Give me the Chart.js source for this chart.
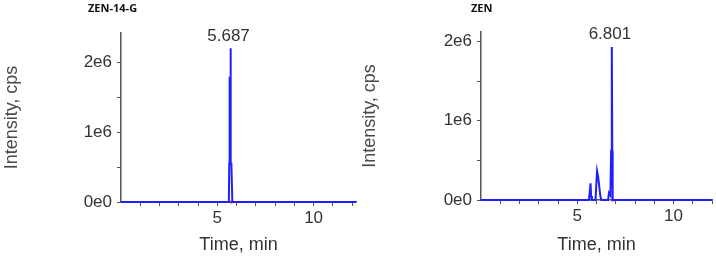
<!DOCTYPE html>
<html>
<head>
<meta charset="utf-8">
<script src="https://cdn.jsdelivr.net/npm/chart.js@4/dist/chart.umd.min.js"></script>
<style>
  body { margin: 0; background: #fff; width: 716px; height: 259px; overflow: hidden; position: relative; }
  .panel { position: absolute; top: 0; height: 259px; }
  .panel-title { position: absolute; top: 0px; font-family: "Open Sans", sans-serif; font-weight: bold; font-size: 11px; color: #111; }
</style>
</head>
<body>
<div class="panel" style="left:0;width:360px"><canvas id="leftChart"></canvas></div>
<div class="panel" style="left:358px;width:358px"><canvas id="rightChart"></canvas></div>
<div class="panel-title" style="left:88px">ZEN-14-G</div>
<div class="panel-title" style="left:471px">ZEN</div>
<script>
// ZEN-14-G trace (time in min, intensity in cps)
const leftTimes = [0, 5.55, 5.6, 5.62, 5.64, 5.665, 5.687, 5.7, 5.73, 5.76, 5.78, 12.2];
const leftIntensity = [0, 0, 0, 550000, 1780000, 1780000, 2200000, 550000, 550000, 550000, 0, 0];
const leftPeakTime = 5.687;

// ZEN trace
const rightTimes = [0, 5.6, 5.65, 5.69, 5.72, 5.76, 5.95, 5.98, 6.03, 6.08, 6.13, 6.2, 6.25, 6.6, 6.65, 6.72, 6.76, 6.79, 6.801, 6.82, 6.84, 12.0];
const rightIntensity = [0, 0, 100000, 210000, 50000, 0, 0, 150000, 365000, 300000, 200000, 50000, 0, 0, 90000, 60000, 620000, 620000, 1930000, 620000, 0, 0];
const rightPeakTime = 6.801;

// integration markers at the peak bases
const leftMarkerTimes = [5.72];
const rightMarkerTimes = [6.83];

const yTickValues = [0, 500000, 1000000, 1500000, 2000000];
const xTickValues = [1, 2, 3, 4, 5, 6, 7, 8, 9, 10, 11, 12];
const xLabelValues = [5, 10];

const textColor = "#333";
const titleColor = "#4a4a4a";
const axisColor = "#555";
const traceColor = "#1f1fff";
const fontFamily = "'Liberation Sans', Arial, sans-serif";

const peakLabelPlugin = {
  id: "peakLabel",
  afterDatasetsDraw(chart, args, opts) {
    const meta = chart.getDatasetMeta(0);
    const ds = chart.data.datasets[0];
    const idx = ds.data.findIndex((p) => p.x === opts.time);
    if (idx < 0) return;
    const pt = meta.data[idx];
    const ctx = chart.ctx;
    ctx.save();
    ctx.font = "17px " + fontFamily;
    ctx.fillStyle = textColor;
    ctx.textAlign = "center";
    ctx.textBaseline = "bottom";
    ctx.fillText(opts.time.toFixed(3), pt.x - 2, pt.y - 4);
    ctx.restore();
  },
};

const makeChart = (id, times, values, peakTime, markers, yMax, xMax, yWidth, xHeight, topPad) => {
  new Chart(document.getElementById(id).getContext("2d"), {
    type: "line",
    data: {
      datasets: [
        {
          data: times.map((t, i) => ({ x: t, y: values[i] })),
          borderColor: traceColor,
          borderWidth: 2,
          pointRadius: 0,
          tension: 0,
          fill: false,
          clip: 4,
        },
        {
          data: markers.map((t) => ({ x: t, y: 0 })),
          showLine: false,
          pointRadius: 1.5,
          pointBackgroundColor: "#e02020",
          pointBorderWidth: 0,
          clip: 4,
        },
      ],
    },
    options: {
      responsive: true,
      maintainAspectRatio: false,
      animation: false,
      layout: { padding: { top: topPad, right: 3, bottom: 0, left: 0 } },
      plugins: {
        legend: { display: false },
        tooltip: { enabled: false },
        peakLabel: { time: peakTime },
      },
      scales: {
        x: {
          type: "linear",
          min: 0,
          max: xMax,
          afterBuildTicks: (scale) => {
            scale.ticks = xTickValues.map((v) => ({ value: v }));
          },
          afterFit: (scale) => {
            scale.height = xHeight;
          },
          ticks: {
            autoSkip: false,
            maxRotation: 0,
            padding: 2,
            color: textColor,
            font: { family: fontFamily, size: 17 },
            callback: (v) => (xLabelValues.includes(v) ? String(v) : ""),
          },
          grid: { drawOnChartArea: false, drawTicks: true, tickLength: 4, color: axisColor },
          border: { display: true, color: axisColor, width: 1.5 },
          title: {
            display: true,
            text: "Time, min",
            color: textColor,
            font: { family: fontFamily, size: 18 },
            padding: { top: 0, bottom: 3 },
          },
        },
        y: {
          min: 0,
          max: yMax,
          afterBuildTicks: (scale) => {
            scale.ticks = yTickValues.map((v) => ({ value: v }));
          },
          afterFit: (scale) => {
            scale.width = yWidth;
          },
          ticks: {
            autoSkip: false,
            padding: 5,
            color: textColor,
            font: { family: fontFamily, size: 17 },
            callback: (v) => (v === 0 ? "0e0" : v % 1000000 === 0 ? v / 1000000 + "e6" : ""),
          },
          grid: { drawOnChartArea: false, drawTicks: true, tickLength: 4, color: axisColor },
          border: { display: true, color: axisColor, width: 1.5 },
          title: {
            display: true,
            text: "Intensity, cps",
            color: titleColor,
            font: { family: fontFamily, size: 18 },
            padding: { top: 1, bottom: 0 },
          },
        },
      },
    },
    plugins: [peakLabelPlugin],
  });
};

makeChart("leftChart", leftTimes, leftIntensity, leftPeakTime, leftMarkerTimes, 2420000, 12.2, 121, 57, 33);
makeChart("rightChart", rightTimes, rightIntensity, rightPeakTime, rightMarkerTimes, 2120000, 12.0, 123, 59, 32);
</script>
</body>
</html>
